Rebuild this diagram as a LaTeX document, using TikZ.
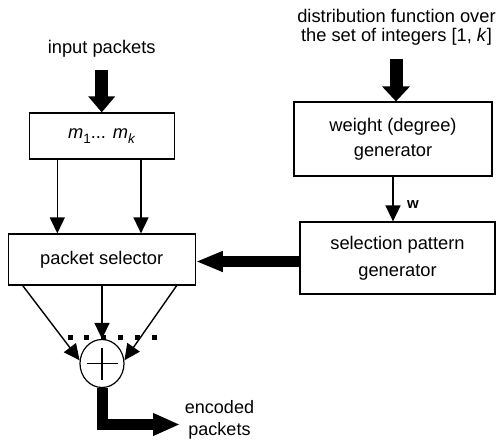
\documentclass[tikz,border=0pt]{standalone}
\usepackage{fontspec}
\setmainfont{Liberation Sans}
\usetikzlibrary{arrows.meta,shapes.geometric}
\newcommand\fs{\fontsize{18.3}{19}\selectfont}
\newcommand\lowsub[1]{\raisebox{-4.5pt}{\fontsize{13.5}{13.5}\selectfont #1}}
\begin{document}
\begin{tikzpicture}[x=1pt,y=-1pt,
  box/.style={draw,line width=1.2pt,inner sep=0pt,align=center,font=\fs},
  lbl/.style={inner sep=0pt,align=center,font=\fs},
  thinarrow/.style={line width=1.4pt,-{Triangle[width=15pt,length=16pt]}},
  fatarrow/.style={line width=13pt,line join=miter}]
\useasboundingbox (0,0) rectangle (496,444);
% labels
\node[lbl] (inp) at (101.7,49) {input packets};
\node[lbl,font=\fontsize{18.3}{18.5}\selectfont] (dist) at (396.5,27.5) {distribution function over\\the set of integers [1, \textit{k}]};
\node[lbl,font=\fontsize{18}{21.5}\selectfont] (enc) at (219.5,420) {encoded\\packets};
\node[inner sep=0pt,font=\bfseries\fontsize{15}{15}\selectfont] (w) at (413,205) {w};
% boxes
\node[box,minimum width=145pt,minimum height=46pt] (msg) at (101.7,136) {\textit{m}\lowsub{1}... \textit{m}\lowsub{\textit{k}}};
\node[box,minimum width=187pt,minimum height=51pt] (sel) at (101.7,259.5) {packet selector};
\node[box,font=\fontsize{18.3}{25}\selectfont,minimum width=198pt,minimum height=74pt] (wg) at (393,139) {weight (degree)\\generator};
\node[box,font=\fontsize{18.3}{27}\selectfont,minimum width=195pt,minimum height=72pt] (sp) at (397.5,258) {selection pattern\\generator};
\node[draw,ellipse,line width=1.2pt,minimum width=44pt,minimum height=48pt,inner sep=0pt] (sum) at (102,363.5) {};
\draw[line width=1.1pt] ([xshift=-15.5pt]sum.center) -- ([xshift=15.5pt]sum.center);
\draw[line width=1.1pt] ([yshift=-16pt]sum.center) -- ([yshift=16pt]sum.center);
% dots
\foreach \x in {70,86.7,103,120,137.3,154} \fill (\x-2.5,335.2) rectangle ++(5,5);
% free ends
\coordinate (inptop) at (101.7,70);
\coordinate (disttop) at (396,59);
\coordinate (bend) at (102,424.5);
\coordinate (outend) at (180,424.5);
% thick arrows
\draw[fatarrow,-{Triangle[width=26pt,length=16pt]}] (inptop) -- (msg.north);
\draw[fatarrow,-{Triangle[width=27pt,length=15pt]}] (disttop) -- (disttop |- wg.north);
\draw[fatarrow,line width=11pt,-{Triangle[width=19pt,length=27pt]}] ([yshift=-3.5pt]sp.west) -- ([yshift=-3.5pt]sp.west -| sel.east);
\draw[fatarrow,line width=11pt,-{Triangle[width=21pt,length=27pt]}] (sum.south) -- (bend) -- (outend);
% thin arrows
\draw[thinarrow] ([xshift=-44.4pt]msg.south) -- ([xshift=-44.4pt]msg.south |- sel.north);
\draw[thinarrow] ([xshift=39.3pt]msg.south) -- ([xshift=39.3pt]msg.south |- sel.north);
\draw[thinarrow] (wg.south) -- (wg.south |- sp.north);
\draw[thinarrow] ([xshift=-79pt]sel.south) -- (sum.172);
\draw[thinarrow] (sum.north |- sel.south) -- (sum.north);
\draw[thinarrow] ([xshift=75pt]sel.south) -- (sum.8);
\end{tikzpicture}
\end{document}
